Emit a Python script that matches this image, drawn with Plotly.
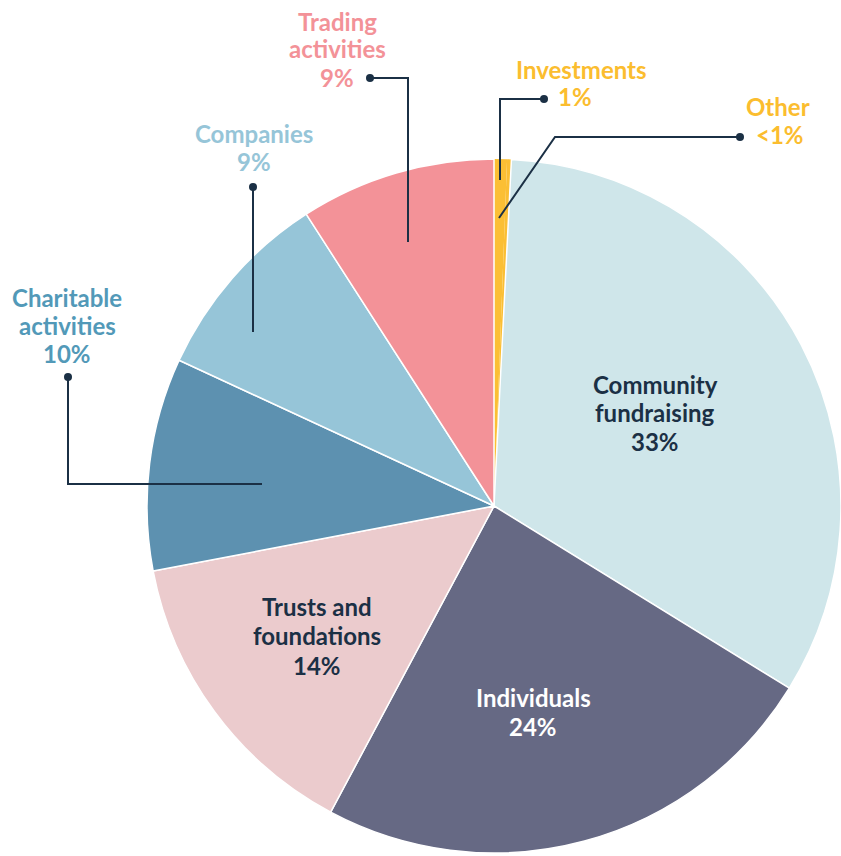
import plotly.graph_objects as go

# ---- data ----
categories = ["Investments", "Other", "Community fundraising", "Individuals",
              "Trusts and foundations", "Charitable activities", "Companies",
              "Trading activities"]
values = [0.6, 0.2, 33.0, 24.0, 14.2, 9.9, 9.0, 9.1]
pct_labels = ["1%", "<1%", "33%", "24%", "14%", "10%", "9%", "9%"]
colors = ["#FBBF34", "#FBBF34", "#CFE6EA", "#666984", "#EBCBCD",
          "#5D91B0", "#96C5D8", "#F39298"]

W, H = 841, 856
NAVY = "#1B3045"
FONT = "Lato"
SIZE = 24


def px(x):
    return x / W


def py(y):
    return 1 - y / H


fig = go.Figure(go.Pie(
    labels=categories,
    values=values,
    sort=False,
    direction="clockwise",
    rotation=0,
    textinfo="none",
    hoverinfo="label+percent",
    marker=dict(colors=colors,
                line=dict(color="white", width=[0, 0, 1.5, 1.5, 1.5, 1.5, 1.5, 1.5])),
    domain=dict(x=[147 / W, 1.0], y=[1 / H, 699 / H]),
    showlegend=False,
))

annotations = []


def label(lines, x, ys, color):
    for text, y in zip(lines, ys):
        annotations.append(dict(
            text=text, x=px(x), y=py(y), xref="paper", yref="paper",
            xanchor="center", yanchor="middle", align="center", showarrow=False,
            font=dict(family=FONT, size=SIZE, color=color, weight="bold")))


# outside labels
label(["Trading", "activities", pct_labels[7]], 337, [21, 49, 78], "#F39298")
label(["Companies", pct_labels[6]], 254, [133, 162], "#96C5D8")
label(["Charitable", "activities", pct_labels[5]], 67, [297, 325, 353], "#5299B8")
label(["Investments"], 581, [69], "#FBBD2F")
label([pct_labels[0]], 575, [97], "#FBBD2F")
label(["Other"], 778, [106], "#FBBD2F")
label([pct_labels[1]], 780, [135], "#FBBD2F")

# inside labels
label(["Community", "fundraising", pct_labels[2]], 655, [384, 413, 441], NAVY)
label(["Trusts and", "foundations", pct_labels[4]], 317, [606, 635, 665], NAVY)
label(["Individuals", pct_labels[3]], 533, [697, 726], "white")

# leader lines (pixel paths)
leaders = [
    [(370, 78), (408, 78), (408, 242)],
    [(253, 187), (253, 332)],
    [(68, 377), (68, 484), (262, 484)],
    [(544, 99), (500, 99), (500, 180)],
    [(740, 137), (555, 137), (499, 218)],
]
shapes = []
for pts in leaders:
    path = "M " + " L ".join(f"{px(x)},{py(y)}" for x, y in pts)
    shapes.append(dict(type="path", path=path, xref="paper", yref="paper",
                       line=dict(color=NAVY, width=2)))
    x0, y0 = pts[0]
    r = 4
    shapes.append(dict(type="circle", xref="paper", yref="paper",
                       x0=px(x0 - r), x1=px(x0 + r), y0=py(y0 + r), y1=py(y0 - r),
                       fillcolor=NAVY, line=dict(width=0)))

fig.update_layout(
    width=W, height=H,
    margin=dict(l=0, r=0, t=0, b=0),
    paper_bgcolor="white",
    plot_bgcolor="white",
    annotations=annotations,
    shapes=shapes,
)

fig.write_html("out.html",
               config={"displayModeBar": False},
               post_script="document.body.style.margin='0';document.body.style.overflow='hidden';")
